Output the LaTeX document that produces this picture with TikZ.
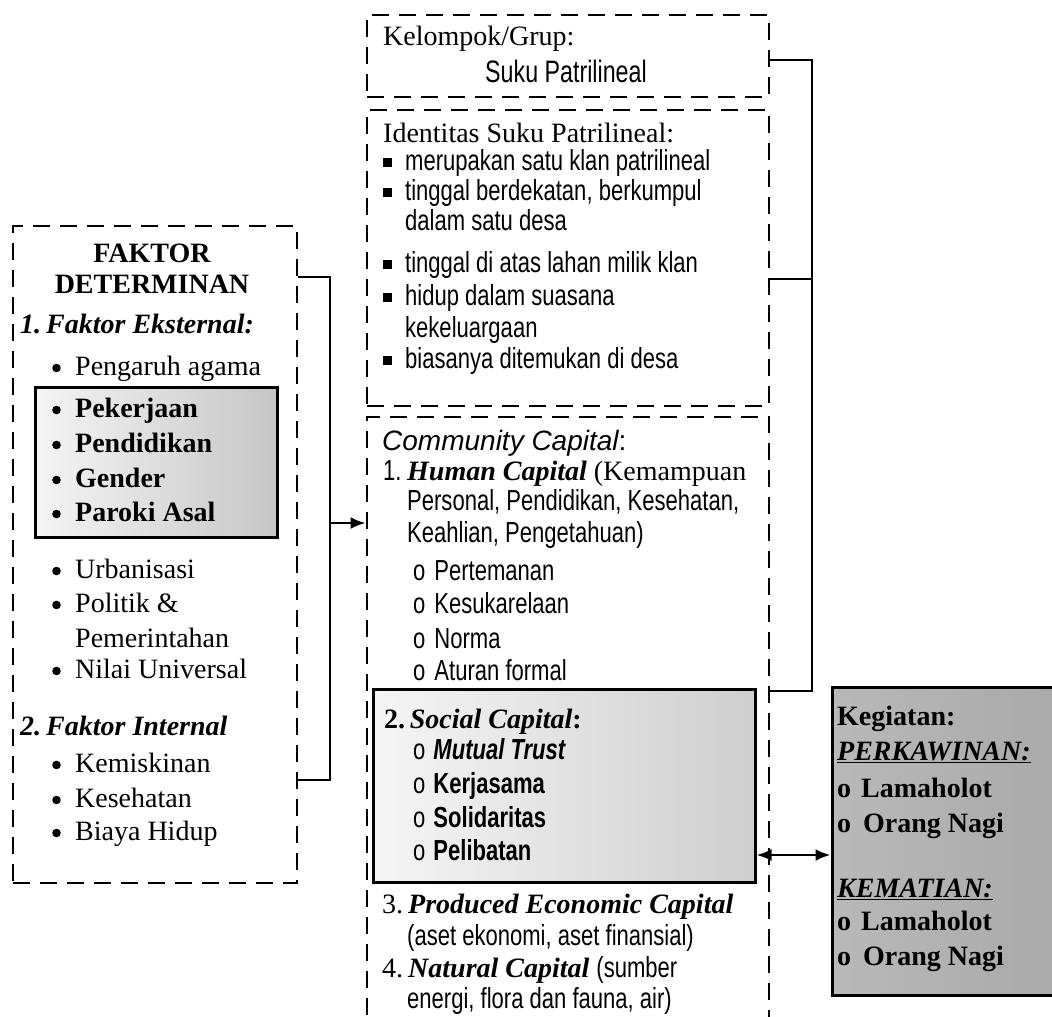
\documentclass[tikz,border=0pt]{standalone}
\usepackage{fontspec}
\setmainfont{Liberation Serif}
\newfontfamily\nsansfam[FakeStretch=0.76]{Liberation Sans}
\newfontfamily\tsansfam[FakeStretch=0.75]{Liberation Sans}
\newfontfamily\wsans{Liberation Sans}
\usetikzlibrary{arrows.meta}

% condensed sans used for most of the list text
\newcommand\nsans{\fontsize{29}{32}\selectfont\nsansfam}
% small square bullet for the identity list
\newcommand\sqbul{\makebox[22pt][l]{\rule[0.12em]{0.3em}{0.3em}}}
% round bullet for the determinant list
\newcommand\rbul{\makebox[23pt][l]{\tikz[baseline=-7pt]\fill (4.5pt,0pt) circle (4.3pt);}}

\tikzset{
  dbox/.style={draw, line width=2.8pt, dash pattern=on 17pt off 10pt, inner sep=0pt},
  sbox/.style={draw, line width=3pt, inner sep=0pt},
  txt/.style={anchor=base west, inner sep=0pt, font=\fontsize{28}{32}\selectfont},
  ctxt/.style={anchor=base, inner sep=0pt, font=\fontsize{28}{32}\selectfont},
  conn/.style={draw, line width=2.6pt},
  tip/.style={-{Latex[length=15pt,width=12pt]}},
  tips/.style={{Latex[length=15pt,width=12pt]}-{Latex[length=15pt,width=12pt]}}
}

\begin{document}
\begin{tikzpicture}[x=1pt,y=-1pt]
\useasboundingbox (0,0) rectangle (1052,1017);
\clip (0,0) rectangle (1052,1017);
\fill[white] (0,0) rectangle (1052,1017);

% ---------- boxes ----------
\node[dbox, minimum width=284pt, minimum height=657pt] (fd) at (155,554.5) {};
\node[sbox, left color=gray!8, right color=gray!45, minimum width=242pt, minimum height=150pt] (fin) at (156,462) {};
\node[dbox, minimum width=402pt, minimum height=82pt] (kg) at (568,56) {};
\node[dbox, minimum width=402pt, minimum height=296pt] (id) at (568,258) {};
\node[dbox, minimum width=402pt, minimum height=640pt] (cc) at (568,737) {};
\node[sbox, left color=gray!8, right color=gray!38, minimum width=382pt, minimum height=193pt] (sc) at (564,785.5) {};
\node[sbox, left color=gray!55, right color=gray!68, minimum width=240pt, minimum height=308pt] (kt) at (952,841) {};

% ---------- left box text ----------
\node[ctxt, font=\fontsize{28}{32}\selectfont\bfseries] (f1) at (152,262) {FAKTOR};
\node[ctxt, font=\fontsize{28}{32}\selectfont\bfseries] (f2) at (152,293) {DETERMINAN};
\node[txt, font=\fontsize{28}{32}\selectfont\bfseries\itshape] (f3) at (20,333) {1.\hspace{5pt}Faktor Eksternal:};
\node[txt] (f4) at (52,375) {\rbul Pengaruh agama};
\node[txt, font=\fontsize{28}{32}\selectfont\bfseries] (f5) at (52,417) {\rbul Pekerjaan};
\node[txt, font=\fontsize{28}{32}\selectfont\bfseries] (f6) at (52,452) {\rbul Pendidikan};
\node[txt, font=\fontsize{28}{32}\selectfont\bfseries] (f7) at (52,487) {\rbul Gender};
\node[txt, font=\fontsize{28}{32}\selectfont\bfseries] (f8) at (52,521) {\rbul Paroki Asal};
\node[txt] (f9) at (52,578) {\rbul Urbanisasi};
\node[txt] (f10) at (52,612) {\rbul Politik \&};
\node[txt] (f11) at (75,647) {Pemerintahan};
\node[txt] (f12) at (52,678) {\rbul Nilai Universal};
\node[txt, font=\fontsize{28}{32}\selectfont\bfseries\itshape] (f13) at (20,735) {2.\hspace{5pt}Faktor Internal};
\node[txt] (f14) at (52,772) {\rbul Kemiskinan};
\node[txt] (f15) at (52,807) {\rbul Kesehatan};
\node[txt] (f16) at (52,840) {\rbul Biaya Hidup};

% ---------- group box ----------
\node[txt] (k1) at (383,45) {Kelompok/Grup:};
\node[txt, font=\fontsize{31}{32}\selectfont\tsansfam] (k2) at (485,82) {Suku Patrilineal};

% ---------- identity box ----------
\node[txt] (i1) at (383,142) {Identitas Suku Patrilineal:};
\node[txt] (i2) at (383,170) {\sqbul\nsans merupakan satu klan patrilineal};
\node[txt] (i3) at (383,200) {\sqbul\nsans tinggal berdekatan, berkumpul};
\node[txt] (i4) at (405,230) {\nsans dalam satu desa};
\node[txt] (i5) at (383,272) {\sqbul\nsans tinggal di atas lahan milik klan};
\node[txt] (i6) at (383,305) {\sqbul\nsans hidup dalam suasana};
\node[txt] (i7) at (405,337) {\nsans kekeluargaan};
\node[txt] (i8) at (383,368) {\sqbul\nsans biasanya ditemukan di desa};

% ---------- community capital box ----------
\node[txt] (c1) at (382,450) {\wsans\itshape Community Capital\upshape:};
\node[txt] (c2a) at (383,480) {\nsans 1.};
\node[txt] (c2) at (407,480) {\textbf{\textit{Human Capital}} (Kemampuan};
\node[txt] (c3) at (407,510) {\nsans Personal, Pendidikan, Kesehatan,};
\node[txt] (c4) at (407,542) {\nsans Keahlian, Pengetahuan)};
\node[txt] (c5) at (413,580) {\nsans o\hspace{9pt}Pertemanan};
\node[txt] (c6) at (413,613) {\nsans o\hspace{9pt}Kesukarelaan};
\node[txt] (c7) at (413,648) {\nsans o\hspace{9pt}Norma};
\node[txt] (c8) at (413,680) {\nsans o\hspace{9pt}Aturan formal};
\node[txt, font=\fontsize{28}{32}\selectfont\bfseries] (s1) at (384,728) {2.\,\textit{Social Capital}:};
\node[txt] (s2) at (413,759) {\nsans o\hspace{8pt}\bfseries\itshape Mutual Trust};
\node[txt] (s3) at (413,793) {\nsans o\hspace{8pt}\bfseries Kerjasama};
\node[txt] (s4) at (413,827) {\nsans o\hspace{8pt}\bfseries Solidaritas};
\node[txt] (s5) at (413,860) {\nsans o\hspace{8pt}\bfseries Pelibatan};
\node[txt] (c9a) at (382,913) {3.};
\node[txt] (c9) at (408,913) {\textbf{\textit{Produced Economic Capital}}};
\node[txt] (c10) at (407,945) {\nsans (aset ekonomi, aset finansial)};
\node[txt] (c11a) at (382,977) {4.};
\node[txt] (c11) at (408,977) {\textbf{\textit{Natural Capital}} {\nsans(sumber}};
\node[txt] (c12) at (407,1008) {\nsans energi, flora dan fauna, air)};

% ---------- activities box ----------
\node[txt, font=\fontsize{28}{32}\selectfont\bfseries] (a1) at (837,725) {Kegiatan:};
\node[txt, font=\fontsize{28}{32}\selectfont\bfseries\itshape] (a2) at (837,760) {\underline{PERKAWINAN:}};
\node[txt, font=\fontsize{28}{32}\selectfont\bfseries] (a3) at (837,797) {o\hspace{10pt}Lamaholot};
\node[txt, font=\fontsize{28}{32}\selectfont\bfseries] (a4) at (837,832) {o\hspace{12pt}Orang Nagi};
\node[txt, font=\fontsize{28}{32}\selectfont\bfseries\itshape] (a5) at (837,897) {\underline{KEMATIAN:}};
\node[txt, font=\fontsize{28}{32}\selectfont\bfseries] (a6) at (837,930) {o\hspace{10pt}Lamaholot};
\node[txt, font=\fontsize{28}{32}\selectfont\bfseries] (a7) at (837,965) {o\hspace{12pt}Orang Nagi};

% ---------- connectors ----------
\coordinate (lt) at (0,277);
\coordinate (lb) at (0,780);
\coordinate (lm) at (330,523);
\draw[conn] (fd.east |- lt) -| (lm) |- (fd.east |- lb);
\draw[conn, tip] (lm) -- (cc.west |- lm);

\coordinate (rt) at (812,60);
\coordinate (rm) at (812,279);
\coordinate (rb) at (812,691);
\draw[conn] (kg.east |- rt) -- (rt) -- (rb) -- (cc.east |- rb);
\draw[conn] (id.east |- rm) -- (rm);

\coordinate (am) at (790,855);
\draw[conn, tips] (sc.east |- am) -- (kt.west |- am);
\end{tikzpicture}
\end{document}
